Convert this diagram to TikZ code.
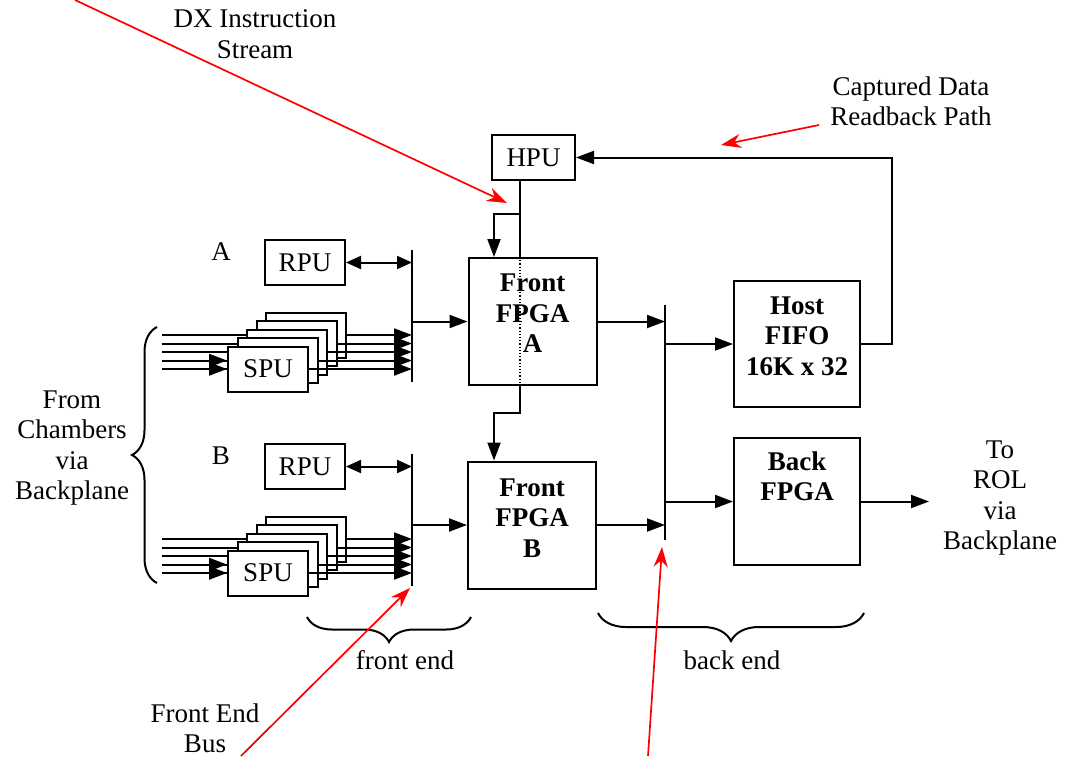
\documentclass[tikz,border=0pt]{standalone}
\usepackage{fontspec}
\setmainfont{Liberation Serif}
\usetikzlibrary{arrows.meta,decorations.pathreplacing,backgrounds}

\begin{document}
\begin{tikzpicture}[x=0.5pt, y=-0.5pt,
    font=\fontsize{13.5}{15.2}\selectfont,
    ln/.style={line width=1pt},
    arr/.style={ln, -{Triangle[length=9pt,width=6.5pt]}},
    dblarr/.style={ln, {Triangle[length=7.5pt,width=6.5pt]}-{Triangle[length=7.5pt,width=6.5pt]}},
    redarr/.style={red, line width=0.85pt, -{Stealth[length=10pt,width=7pt]}},
    unit/.style={draw, ln, fill=white, inner sep=0pt, minimum width=40pt, minimum height=22.5pt},
    fpga/.style={draw, ln, fill=white, inner sep=0pt, minimum width=64pt, minimum height=63.5pt},
    boxtxt/.style={align=center, font=\fontsize{13.5}{15.2}\selectfont\bfseries, inner sep=0pt},
    note/.style={align=center, inner sep=0pt},
    brc/.style={ln, decorate, decoration={brace, amplitude=#1}}]

    \useasboundingbox (0,0) rectangle (1074,756);

    % boards
    \node[unit, minimum width=41.5pt] (hpu) at (533.5,157.5) {HPU};
    \node[fpga] (frontA) at (532.5,321.5) {};
    \node[fpga] (frontB) at (532,525) {};
    \node[fpga, minimum width=63pt, minimum height=63pt] (host) at (797,344) {};
    \node[fpga, minimum width=63pt] (back) at (797,501.5) {};

    \node[boxtxt] (frontAtxt) at ([yshift=4pt]frontA.center) {Front\\FPGA\\A};
    \node[boxtxt] (frontBtxt) at ([yshift=3.5pt]frontB.center) {Front\\FPGA\\B};
    \node[boxtxt] (hosttxt) at ([yshift=4pt]host.center) {Host\\FIFO\\16K x 32};
    \node[boxtxt, anchor=north] (backtxt) at ([yshift=-7pt]back.north) {Back\\FPGA};

    \coordinate (hpucol) at (520,0);
    \coordinate (feedcol) at (494,0);
    \coordinate (tap) at (520,214);
    \coordinate (jog) at (520,413);
    \coordinate (betop) at (665,305);
    \coordinate (bebot) at (665,540);
    \coordinate (inx) at (162,0);

    % instruction path
    \draw[ln] (hpu.south -| hpucol) -- (frontA.north -| hpucol);
    \draw[densely dotted, line width=0.6pt] (frontA.north -| hpucol) -- (frontA.south -| hpucol);
    \draw[arr] (tap) -| (frontA.north -| feedcol);
    \draw[arr] (frontA.south -| hpucol) -- (jog) -| (frontB.north -| feedcol);

    % back end bus
    \draw[ln] (betop) -- (bebot);
    \draw[arr] (frontA.east) -- (frontA.east -| betop);
    \draw[arr] (frontB.east) -- (frontB.east -| betop);
    \draw[arr] (host.west -| betop) -- (host.west);
    \draw[arr] (back.west -| betop) -- (back.west);
    \draw[arr] (host.east) -- ++(31,0) |- (hpu.east);
    \draw[arr] (back.east) -- ++(68,0);

    % front ends
    \foreach \s/\o in {A/0, B/204} {
        \node[note] (lbl\s) at (221,{252+\o}) {\s};
        \node[unit] (rpu\s) at (305,{262.5+\o}) {RPU};
        \coordinate (fetop\s) at (412,{250+\o});
        \coordinate (febot\s) at (412,{382+\o});
        \draw[ln] (fetop\s) -- (febot\s);
        \draw[dblarr] (rpu\s.east) -- (rpu\s.east -| fetop\s);
        \draw[arr] (front\s.west -| fetop\s) -- (front\s.west);
        \foreach \k in {4,3,2,1}
            \node[unit] (spu\s\k) at ({268+9.5*\k},{369-8.5*\k+\o}) {};
        \node[unit] (spu\s0) at (268,{369+\o}) {SPU};
        \begin{pgfonlayer}{background}
            \foreach \k in {0,...,4}
                \draw[ln] (spu\s\k.west -| inx) -- (spu\s\k.west);
        \end{pgfonlayer}
        \draw[arr] (spu\s0.west -| inx) -- (spu\s0.west);
        \draw[arr] (spu\s1.west -| inx) -- (spu\s1.west -| spu\s0.west);
        \foreach \k in {0,...,4}
            \draw[arr] (spu\s\k.east) -- (spu\s\k.east -| fetop\s);
    }

    % braces
    \draw[brc=12.5pt] (157,583) -- (157,327);
    \draw[brc=12.5pt] (471,617) -- (307,617);
    \draw[brc=14pt] (864,613) -- (598,613);

    % texts
    \node[note] (dxtxt) at (255,34) {DX Instruction\\Stream};
    \node[note] (cdtxt) at (911,101) {Captured Data\\Readback Path};
    \node[note] (fromtxt) at (72,448) {From\\Chambers\\via\\Backplane};
    \node[note] (totxt) at (1000,498) {To\\ROL\\via\\Backplane};
    \node[note] (febtxt) at (205,728) {Front End\\Bus};
    \node[note] (fetxt) at (405,660) {front end};
    \node[note] (betxt) at (732,660) {back end};

    % pointers
    \coordinate (dxtail) at (75,0);
    \coordinate (dxtip) at (507,203);
    \coordinate (cdtail) at (819,125);
    \coordinate (cdtip) at (721,145);
    \coordinate (febtail) at (241,756);
    \coordinate (febtip) at (410,588);
    \coordinate (betail) at (648,756);
    \coordinate (betip) at (662,547);
    \draw[redarr] (dxtail) -- (dxtip);
    \draw[redarr] (cdtail) -- (cdtip);
    \draw[redarr] (febtail) -- (febtip);
    \draw[redarr] (betail) -- (betip);
\end{tikzpicture}
\end{document}
